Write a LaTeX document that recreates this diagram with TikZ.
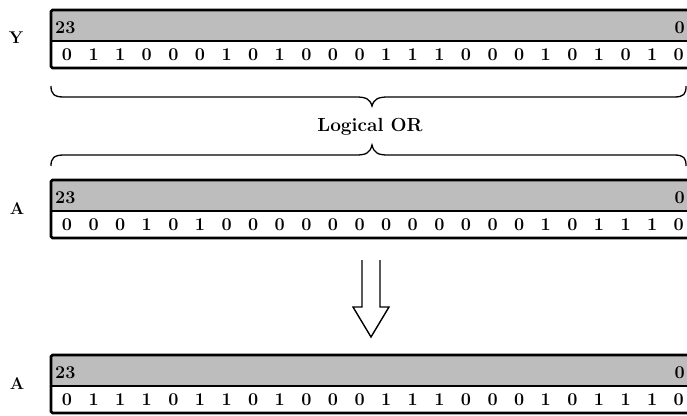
\documentclass[tikz,border=0pt]{standalone}
\usepackage{tikz}
\tikzset{
  regborder/.style={line width=2.8pt, rounded corners=1.5pt},
  graybar/.style={fill=black!26},
  divline/.style={line width=2.4pt},
  bitdigit/.style={font=\fontsize{18}{18}\selectfont\bfseries, inner sep=0pt},
  bandlabel/.style={font=\fontsize{18}{18}\selectfont\bfseries, inner sep=0pt},
  reglabel/.style={font=\fontsize{17}{17}\selectfont\bfseries, inner sep=0pt},
  bracepath/.style={line width=1.3pt},
  hollowarrow/.style={line width=1.4pt, line join=miter}
}
\newcommand{\drawreg}[3]{%
  % #1 = top y, #2 = bits, #3 = name
  \fill[graybar] (51,#1) rectangle (690,#1+31);
  \draw[divline] (51,#1+31) -- (690,#1+31);
  \draw[regborder] (690,#1) -- (51,#1) -- (51,#1+58) -- (690,#1+58);
  \node[bandlabel, anchor=west] (#3hi) at (55,#1+18) {23};
  \node[bandlabel, anchor=east] (#3lo) at (685,#1+18) {0};
  \foreach \b [count=\i from 0] in {#2} {
    \node[bitdigit] (#3b\i) at (67+\i*26.6,#1+45) {\b};
  }
  \coordinate (#3top) at (369,#1);
  \coordinate (#3bot) at (369,#1+58);
}
\begin{document}
\begin{tikzpicture}[x=1pt,y=-1pt]
\useasboundingbox (0,0) rectangle (687,415);
\fill[white] (0,0) rectangle (687,415);

\drawreg{10}{0,1,1,0,0,0,1,0,1,0,0,0,1,1,1,0,0,0,1,0,1,0,1,0}{y}
\drawreg{180}{0,0,0,1,0,1,0,0,0,0,0,0,0,0,0,0,0,0,1,0,1,1,1,0}{a}
\drawreg{355}{0,1,1,1,0,1,1,0,1,0,0,0,1,1,1,0,0,0,1,0,1,1,1,0}{r}

\node[reglabel] (ly) at (16,38) {Y};
\node[reglabel] (la) at (17,209) {A};
\node[reglabel] (lr) at (17,384) {A};

% brace below Y
\draw[bracepath] (51,86) .. controls (51,94) and (54,97) .. (64,97) -- (356,97)
  .. controls (366,97) and (370,99) .. (372,106)
  .. controls (374,99) and (378,97) .. (388,97) -- (674,97)
  .. controls (684,97) and (686,94) .. (686,86);

\node[font=\fontsize{19}{19}\selectfont\bfseries] (lor) at (370,127) {Logical OR};

% brace above A
\draw[bracepath] (51,166) .. controls (51,158) and (54,155) .. (64,155) -- (356,155)
  .. controls (366,155) and (370,153) .. (372,145)
  .. controls (374,153) and (378,155) .. (388,155) -- (674,155)
  .. controls (684,155) and (686,158) .. (686,166);

% hollow arrow
\coordinate (as1) at (362,260);
\coordinate (as2) at (380,260);
\draw[hollowarrow] (as1) -- (362,307) -- (353,307) -- (371,337) -- (389,307) -- (380,307) -- (as2);
\end{tikzpicture}
\end{document}
